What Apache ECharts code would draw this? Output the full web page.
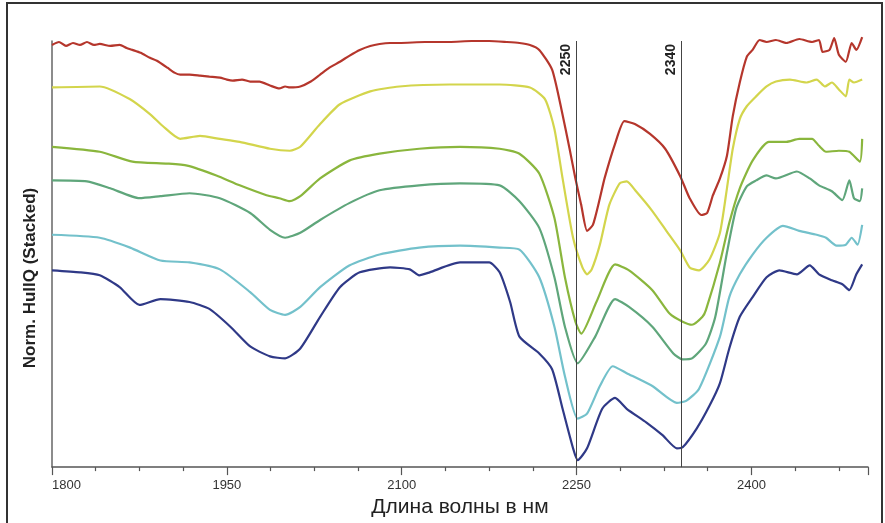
<!DOCTYPE html>
<html>
<head>
<meta charset="utf-8">
<script src="https://cdn.jsdelivr.net/npm/echarts@6/dist/echarts.min.js"></script>
<style>
html,body{margin:0;padding:0;background:#fff;}
#chart{width:885px;height:523px;}
</style>
</head>
<body>
<div id="chart"></div>
<script>
// Wavelength (nm) / normalized stacked hull quotient (arbitrary units, offset stacked)
const xTickLabels = [1800, 1950, 2100, 2250, 2400];
const markerWavelengths = [2250, 2340];
const seriesColors = ['#b5362c', '#d3d54c', '#8ab63d', '#5fa67b', '#73c1cb', '#2f3987'];

const redData = [[1800,427],[1806,430],[1812,426],[1818,429],[1824,427],[1830,430],[1836,427],[1841,428],[1850,426],[1858,427],[1864,424],[1869,422],[1876,419],[1884,414],[1890,411],[1899,404],[1905,399],[1910,397],[1918,397],[1927,396],[1935,395],[1944,394],[1950,392],[1955,391],[1963,392],[1970,390],[1978,390],[1987,386],[1995,383],[2000,385],[2004,384],[2013,385],[2022,390],[2030,397],[2038,404],[2047,410],[2055,416],[2064,422],[2073,426],[2081,428],[2090,429],[2098,429],[2120,430],[2141,430],[2160,431],[2175,431],[2190,430],[2201,429],[2210,427],[2218,422],[2229,402],[2237,362],[2244,322],[2249,292],[2254,265],[2259,239],[2264,245],[2270,272],[2274,292],[2283,327],[2291,350],[2300,347],[2313,337],[2326,322],[2339,294],[2347,272],[2357,255],[2362,257],[2367,275],[2373,292],[2379,315],[2384,355],[2390,389],[2396,415],[2401,422],[2407,432],[2413,430],[2421,432],[2430,429],[2441,433],[2452,430],[2458,432],[2461,420],[2467,422],[2471,434],[2475,417],[2481,410],[2486,429],[2490,422],[2495,435]];

const yellowData = [[1800,384],[1841,385],[1867,372],[1884,357],[1895,345],[1910,332],[1927,335],[1944,332],[1961,329],[1987,322],[2004,320],[2013,324],[2030,347],[2047,367],[2073,380],[2098,385],[2141,387],[2184,387],[2210,384],[2223,372],[2231,342],[2238,292],[2247,232],[2255,202],[2259,195],[2263,200],[2270,225],[2278,265],[2287,287],[2293,289],[2301,279],[2315,259],[2327,239],[2339,219],[2347,202],[2355,199],[2364,210],[2373,237],[2379,282],[2384,322],[2390,352],[2396,365],[2404,375],[2413,385],[2421,390],[2433,392],[2447,389],[2456,392],[2463,385],[2469,389],[2475,382],[2481,375],[2484,392],[2488,389],[2495,392]];

const oliveData = [[1800,324],[1841,319],[1869,309],[1899,307],[1916,305],[1941,295],[1961,285],[1984,275],[1995,272],[2004,269],[2013,274],[2030,292],[2055,310],[2081,317],[2115,322],[2150,324],[2184,322],[2201,317],[2218,297],[2231,252],[2240,192],[2249,147],[2254,135],[2267,167],[2283,205],[2295,199],[2315,179],[2330,155],[2341,147],[2349,144],[2358,152],[2361,159],[2373,207],[2381,247],[2390,282],[2401,310],[2415,329],[2430,329],[2441,332],[2452,332],[2458,325],[2464,319],[2475,320],[2484,319],[2493,309],[2495,332]];

const greenData = [[1800,290],[1830,289],[1850,282],[1875,272],[1893,274],[1918,277],[1944,272],[1970,257],[1987,240],[2000,232],[2013,237],[2030,250],[2055,267],[2081,280],[2115,285],[2150,287],[2184,285],[2201,269],[2218,242],[2231,192],[2240,142],[2251,105],[2266,132],[2283,170],[2295,162],[2315,142],[2333,115],[2341,109],[2349,110],[2361,125],[2369,152],[2379,217],[2387,262],[2396,284],[2404,290],[2413,295],[2421,292],[2439,299],[2450,292],[2458,285],[2469,279],[2478,270],[2484,290],[2488,272],[2493,269],[2495,282]];

const cyanData = [[1800,235],[1841,232],[1867,222],[1893,209],[1918,207],[1944,200],[1970,177],[1987,159],[2000,154],[2013,162],[2030,182],[2055,204],[2081,215],[2115,222],[2150,224],[2184,222],[2201,220],[2218,192],[2231,142],[2240,92],[2251,49],[2259,54],[2270,82],[2281,102],[2293,95],[2315,82],[2336,65],[2344,67],[2355,79],[2373,132],[2381,172],[2390,195],[2401,215],[2413,232],[2427,244],[2441,239],[2456,235],[2464,232],[2473,224],[2481,225],[2486,232],[2491,225],[2495,245]];

const navyData = [[1800,199],[1824,197],[1841,194],[1858,182],[1875,164],[1893,170],[1918,167],[1935,160],[1953,142],[1970,122],[1987,112],[2000,110],[2013,120],[2030,152],[2047,182],[2064,197],[2090,202],[2107,200],[2115,194],[2124,197],[2150,207],[2175,207],[2184,197],[2193,167],[2201,132],[2218,115],[2229,99],[2238,59],[2247,19],[2251,7],[2259,19],[2272,59],[2283,70],[2293,59],[2310,45],[2324,32],[2336,19],[2341,20],[2353,39],[2364,62],[2373,85],[2381,120],[2390,152],[2401,172],[2413,192],[2424,199],[2439,195],[2450,204],[2458,195],[2469,189],[2478,185],[2484,179],[2490,195],[2495,205]];

const seriesList = [redData, yellowData, oliveData, greenData, cyanData, navyData];

const chart = echarts.init(document.getElementById('chart'), null, {renderer: 'canvas'});

const series = seriesList.map((d, i) => ({
  type: 'line',
  data: d,
  showSymbol: false,
  smooth: 0.2,
  clip: false,
  lineStyle: {color: seriesColors[i], width: 2.2},
  itemStyle: {color: seriesColors[i]},
  z: 3
}));

series[0].markLine = {
  silent: true,
  symbol: 'none',
  lineStyle: {color: '#444', width: 1, type: 'solid'},
  label: {
    position: 'insideEndTop',
    formatter: '{c}',
    color: '#222',
    fontWeight: 'bold',
    fontSize: 14,
    fontFamily: 'Liberation Sans, Arial, sans-serif',
    distance: 3
  },
  data: markerWavelengths.map(v => ({xAxis: v}))
};

chart.setOption({
  animation: false,
  backgroundColor: '#fff',
  grid: {left: 52, right: 17, top: 41, bottom: 51, containLabel: false},
  xAxis: {
    type: 'value',
    min: 1800,
    max: 2500,
    interval: 150,
    name: 'Длина волны в нм',
    nameLocation: 'middle',
    nameGap: 21,
    nameTextStyle: {fontSize: 21, color: '#222', fontFamily: 'Liberation Sans, Arial, sans-serif'},
    axisLine: {lineStyle: {color: '#555', width: 1.5}},
    axisTick: {show: true, length: 8, lineStyle: {color: '#555', width: 1.2}},
    minorTick: {show: true, splitNumber: 4, length: 4, lineStyle: {color: '#555', width: 1.2}},
    splitLine: {show: false},
    axisLabel: {
      fontSize: 13, color: '#333', margin: 12,
      fontFamily: 'Liberation Sans, Arial, sans-serif',
      alignMinLabel: 'left',
      formatter: v => (xTickLabels.indexOf(v) >= 0 ? String(v) : '')
    }
  },
  yAxis: {
    type: 'value',
    min: 0,
    max: 431,
    axisLine: {show: true, lineStyle: {color: '#666', width: 1.5}},
    axisTick: {show: false},
    axisLabel: {show: false},
    splitLine: {show: false}
  },
  graphic: [
    {type: 'rect', shape: {x: 7, y: 3, width: 875, height: 540}, style: {fill: 'none', stroke: '#333', lineWidth: 2}, silent: true, z: 10},
    {type: 'text', x: 30, y: 278, rotation: Math.PI / 2,
     style: {text: 'Norm. HullQ (Stacked)', fill: '#222', font: 'bold 17px "Liberation Sans", Arial, sans-serif', align: 'center', verticalAlign: 'middle'}}
  ],
  series: series
});
</script>
</body>
</html>
